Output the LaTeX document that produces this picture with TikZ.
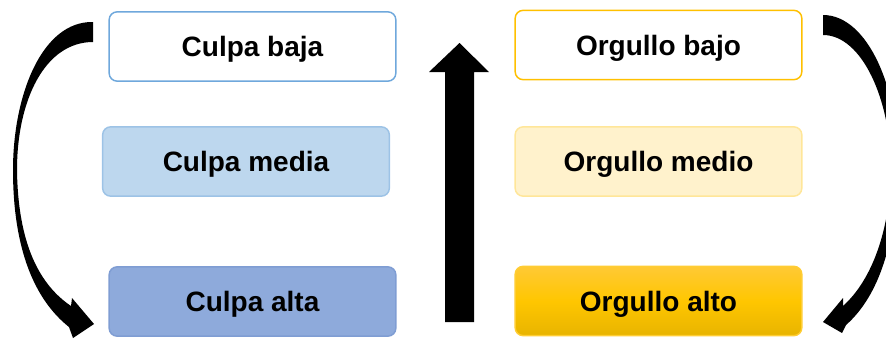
\documentclass[tikz,border=0pt]{standalone}
\usepackage{fontspec}
\setmainfont{Liberation Sans}
\usepackage{tikz}
\usetikzlibrary{positioning}

\definecolor{azulBorde}{HTML}{6FA8DC}
\definecolor{azulClaro}{HTML}{BDD7EE}
\definecolor{azulClaroBorde}{HTML}{9DC3E6}
\definecolor{azulMedio}{HTML}{8EAADB}
\definecolor{azulMedioBorde}{HTML}{7F9DD3}
\definecolor{oroBorde}{HTML}{FFC000}
\definecolor{oroClaro}{HTML}{FFF2CC}
\definecolor{oroClaroBorde}{HTML}{FFE699}
\definecolor{oroArriba}{HTML}{FFC935}
\definecolor{oroAbajo}{HTML}{E8B400}

\tikzset{
  nivel/.style={rectangle, rounded corners=6pt, minimum width=215pt, minimum height=52pt,
    inner sep=0pt, line width=1.1pt, text height=15.3pt, text depth=0pt,
    font=\fontsize{21}{25}\selectfont\bfseries},
  flecha/.style={fill=black, draw=none}
}

\begin{document}
\begin{tikzpicture}[x=0.75pt,y=-0.75pt]
\useasboundingbox (0,0) rectangle (886,339);
\clip (0,0) rectangle (886,339);
\coordinate (p1) at (252.5,46.5);
\coordinate (p2) at (246,161.5);
\coordinate (p3) at (252.5,301.5);
\coordinate (q1) at (658.5,45);
\coordinate (q2) at (658.5,161.5);
\coordinate (q3) at (658.5,301);
% draws boxes
\node[nivel, draw=azulBorde, fill=white] (culpaBaja) at (p1) {Culpa baja};
\node[nivel, draw=azulClaroBorde, fill=azulClaro] (culpaMedia) at (p2) {Culpa media};
\node[nivel, draw=azulMedioBorde, fill=azulMedio] (culpaAlta) at (p3) {Culpa alta};
\node[nivel, draw=oroBorde, fill=white] (orgulloBajo) at (q1) {Orgullo bajo};
\node[nivel, draw=oroClaroBorde, fill=oroClaro] (orgulloMedio) at (q2) {Orgullo medio};
\node[nivel, draw=oroBorde!80, top color=oroArriba, bottom color=oroAbajo, middle color=oroBorde!90!yellow] (orgulloAlto) at (q3) {Orgullo alto};
% draws middle arrow
\coordinate (m1) at (445,322);
\coordinate (m2) at (474,322);
\coordinate (m3) at (459.5,43);
\fill[flecha] (m1) -- (m2) -- (474,72) -- (489,72) -- (m3) -- (429,72) -- (445,72) -- cycle;
% draws left arrow
\coordinate (l1) at (93,22);
\coordinate (l2) at (93,42);
\coordinate (l3) at (94,324);
\fill[flecha] (l1) .. controls (42,21) and (13,95) .. (13,170)
  .. controls (13,250) and (35,300) .. (69,327)
  -- (73,338) -- (l3) -- (72,298) -- (71,306)
  .. controls (40,285) and (18,245) .. (17,170)
  .. controls (17,100) and (45,42) .. (l2) -- cycle;
% draws right arrow
\coordinate (r1) at (823,15);
\coordinate (r2) at (823,35);
\coordinate (r3) at (823,322);
\fill[flecha] (r1) .. controls (868,15) and (900,90) .. (898,170)
  .. controls (896,240) and (880,295) .. (846,325)
  -- (842,333) -- (r3) -- (843,298) -- (843,306)
  .. controls (872,280) and (890,230) .. (891,170)
  .. controls (891,100) and (862,35) .. (r2) -- cycle;
\end{tikzpicture}
\end{document}
